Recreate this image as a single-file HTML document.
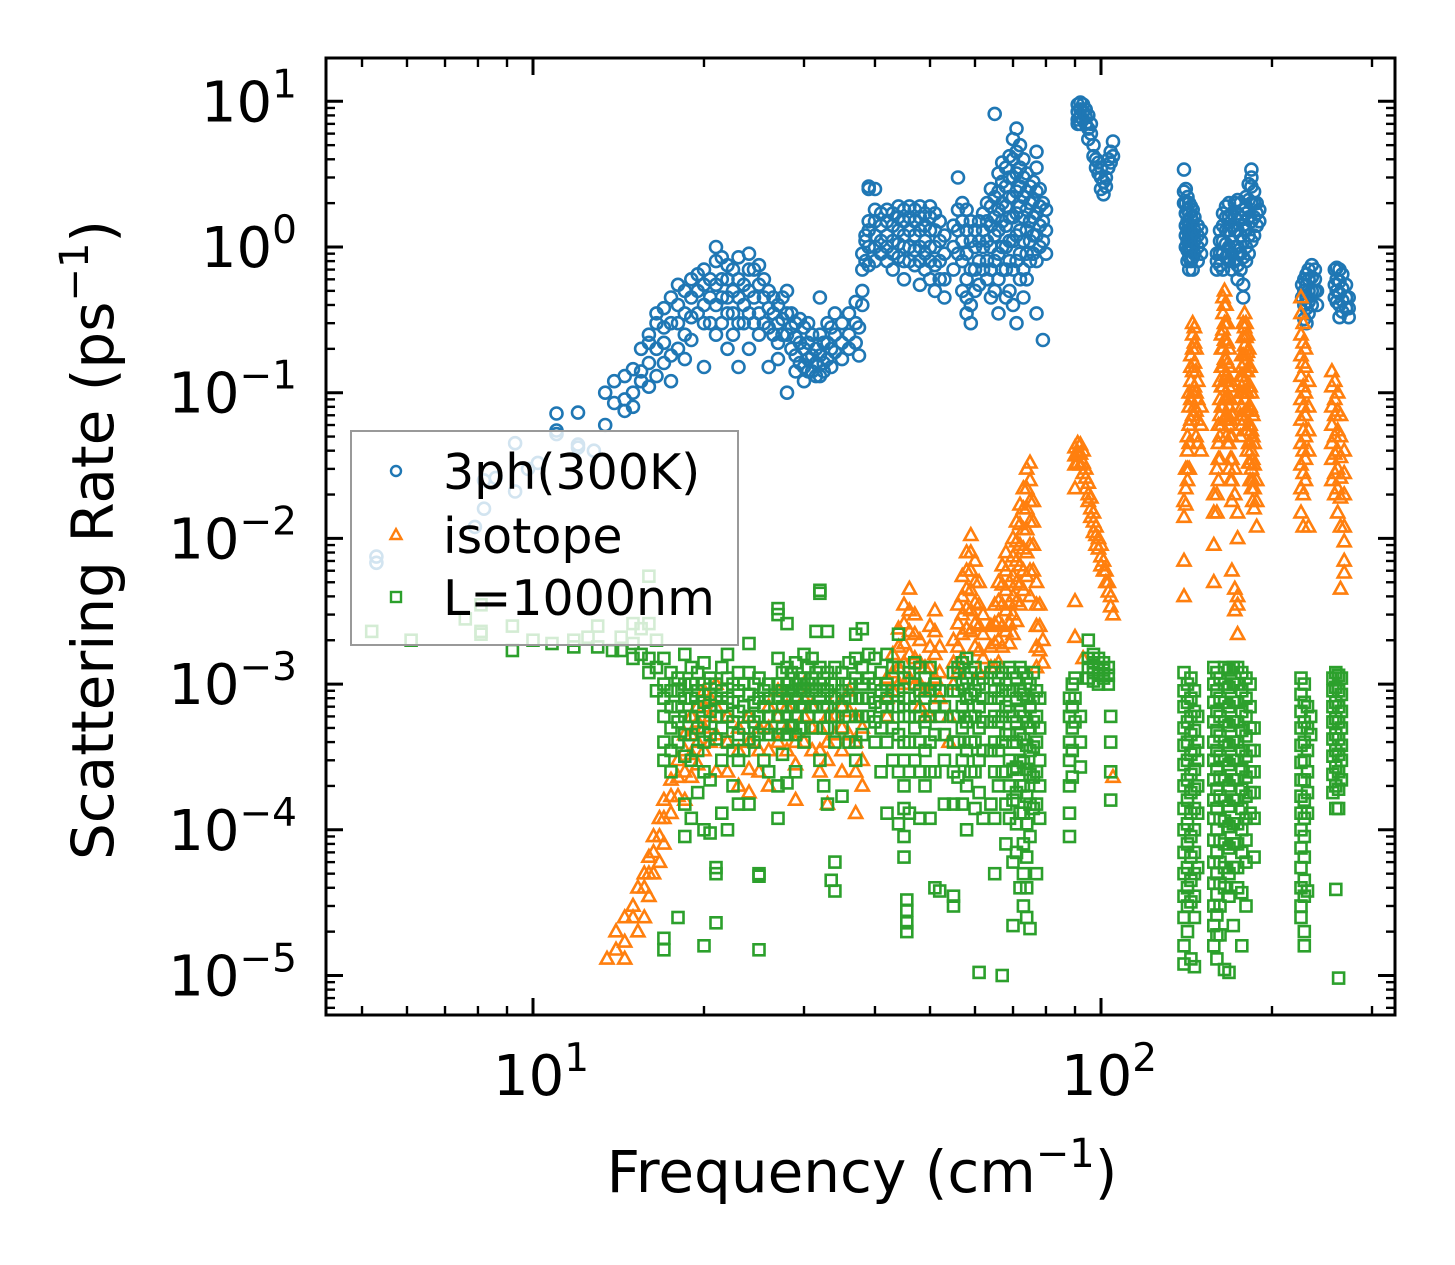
<!DOCTYPE html>
<html><head><meta charset="utf-8"><title>Scattering Rate vs Frequency</title>
<style>html,body{margin:0;padding:0;background:#fff}svg{display:block}text{font-family:"DejaVu Sans","Liberation Sans",sans-serif;fill:#000}</style>
</head><body>
<svg id="chart" width="1455" height="1265" viewBox="0 0 1455 1265" xmlns="http://www.w3.org/2000/svg">
<rect width="1455" height="1265" fill="#fff"/>
<g id="marks"></g>
<g id="axes"></g>
<g id="legend"></g>
</svg>
<script>
const seriesNames = ["3ph(300K)", "isotope", "L=1000nm"];
const xTickLabels = ["1", "2"];
const yTickExps = ["1", "0", "−1", "−2", "−3", "−4", "−5"];
const phononGroups = [
[5.3,0.0075,0.0068],[7.9,0.012],[8.2,0.016,0.025],[8.6,0.026],[9.3,0.045,0.021],[9.8,0.03],[10.2,0.033],[11,0.055,0.072,0.052],[12,0.073,0.044,0.042],[12.8,0.04],[13.4,0.1,0.06],[13.9,0.085,0.12],[14.5,0.13,0.09,0.075],[15,0.1,0.145,0.08],[15.5,0.14,0.2,0.12],[16,0.25,0.22,0.16,0.11],[16.5,0.35,0.3,0.2,0.13],[17,0.38,0.28,0.22,0.16],[17.5,0.45,0.3,0.18,0.12],[18,0.55,0.4,0.3,0.2],[18.5,0.5,0.35,0.25,0.17],[19,0.6,0.45,0.33,0.23],[19.5,0.65,0.5,0.35],[20,0.7,0.55,0.4,0.3,0.15],[20.5,0.6,0.45,0.3],[21,1.0,0.8,0.55,0.4,0.25],[21.5,0.85,0.6,0.45,0.3],[22,0.75,0.6,0.45,0.35,0.2],[22.5,0.7,0.5,0.35,0.25],[23,0.85,0.6,0.45,0.3,0.15],[23.5,0.55,0.4,0.3],[24,0.9,0.7,0.5,0.35,0.2],[24.5,0.7,0.45,0.3],[25,0.75,0.55,0.35,0.25],[25.5,0.6,0.45,0.3],[26,0.5,0.38,0.28,0.15],[26.5,0.45,0.35,0.25],[27,0.4,0.3,0.22,0.17],[27.5,0.45,0.32,0.25],[28,0.5,0.35,0.25,0.1],[28.5,0.35,0.28,0.2],[29,0.3,0.24,0.18,0.14],[29.5,0.32,0.22,0.16],[30,0.28,0.2,0.15,0.12],[30.5,0.3,0.22,0.17,0.14],[31,0.25,0.18,0.14],[31.5,0.2,0.16,0.13],[32,0.45,0.25,0.18,0.13],[32.5,0.22,0.16,0.14],[33,0.3,0.22,0.17],[33.5,0.28,0.2,0.15],[34,0.35,0.25,0.19],[35,0.3,0.22,0.17],[36,0.35,0.25,0.2],[37,0.42,0.3,0.22],[37.5,0.28,0.18],[38,0.5,0.4,0.7,0.9],[38.5,1.2,1.1,0.8],[39,2.6,2.5,1.5,1.3,1.0,0.75],[40,2.5,1.8,1.5,1.2,1.0,0.8],[41,1.7,1.4,1.1,0.9],[42,1.8,1.5,1.2,1.0,0.8],[43,1.7,1.4,1.1,0.9,0.7],[44,1.9,1.6,1.3,1.05,0.85],[45,1.8,1.5,1.2,1.0,0.8,0.6],[46,1.9,1.6,1.3,1.0,0.8],[47,1.8,1.5,1.2,0.95,0.75],[48,1.9,1.6,1.3,1.0,0.8,0.55],[49,1.7,1.4,1.1,0.9,0.7],[50,1.9,1.6,1.3,1.0,0.8,0.6],[51,1.7,1.3,1.0,0.75,0.5],[52,1.5,1.1,0.8,0.6],[53,1.2,0.9,0.6,0.45],[55,1.4,1.0,0.7],[56,3.0,1.8,1.3,0.9],[57,2.0,1.5,1.1,0.8,0.5],[58,1.8,1.3,0.9,0.6,0.45,0.35],[59,1.5,1.1,0.7,0.4,0.3],[60,1.3,1.0,0.7,0.5],[61,1.5,1.1,0.8,0.55],[62,1.7,1.3,1.0,0.7],[63,2.0,1.5,1.1,0.8,0.6],[64,2.5,1.9,1.4,1.0,0.7,0.45],[65,8.2,2.2,1.6,1.2,0.8,0.5],[66,3.2,2.4,1.8,1.3,0.9,0.6,0.35],[67,3.8,2.8,2.0,1.5,1.0,0.7],[68,3.5,2.6,1.9,1.4,1.0,0.7,0.45],[69,4.2,3.0,2.2,1.6,1.1,0.8,0.5],[70,5.5,4.0,3.0,2.2,1.6,1.1,0.7,0.4],[71,6.5,4.5,3.2,2.4,1.7,1.2,0.8,0.3],[72,5.0,3.5,2.6,1.9,1.3,0.9,0.6],[73,4.0,3.0,2.2,1.6,1.1,0.7,0.45],[74,3.2,2.4,1.8,1.3,0.9,0.6],[75,2.6,2.0,1.5,1.1,0.8],[76,2.8,2.1,1.6,1.2,0.9],[77,4.5,3.5,2.4,1.7,1.2,0.8,0.35],[78,2.5,1.9,1.4,1.0],[79,2.0,1.5,1.1,0.23],[80,1.8,1.3,0.9],
[91,9.5,8.5,7.5,7.0],[92,9.8,8.8,7.8,7.0],[93,9.5,8.5,7.5],[94,8.8,7.8,7.0],[95,8.0,6.5,5.5],[96,7.0,6.0],[97,5.0,4.2],[98,4.0,3.5],[99,3.8,3.2],[100,3.5,3.0,2.5],[101,2.8,2.3],[102,3.0,2.6],[103,4.0,3.5],[104,4.5,3.8],[105,5.3,4.2],
[140,3.4,2.4,2.0],[141,2.5,2.0,1.7,1.4,1.2,1.0],[142,2.2,1.8,1.5,1.3,1.1,0.95,0.8],[143,2.0,1.7,1.4,1.2,1.0,0.85,0.7],[144,1.9,1.6,1.3,1.1,0.95,0.8],[145,1.8,1.5,1.2,1.0,0.85,0.7],[146,1.6,1.3,1.1,0.9],[148,1.4,1.2,1.0,0.8],[150,1.3,1.1,0.9],
[160,0.9,0.8,0.7],[162,1.3,1.1,0.9,0.75],[164,1.7,1.4,1.1,0.9,0.7],[166,1.9,1.6,1.3,1.05,0.85],[168,2.0,1.6,1.3,1.0,0.8],[170,1.7,1.4,1.1,0.9,0.7],[172,2.0,1.6,1.3,1.0,0.8],[174,2.1,1.7,1.3,1.0,0.75,0.6],[176,2.0,1.6,1.2,0.9,0.7],[178,1.8,1.4,1.1,0.85,0.55,0.45],[180,2.2,1.7,1.3,1.0,0.8],[182,2.7,2.1,1.6,1.2,0.9],[184,3.4,3.0,2.6,2.0,1.5,1.1],[186,2.4,2.0,1.6,1.2],[188,2.0,1.7,1.4],[190,1.8,1.5],
[226,0.55,0.45],[228,0.6,0.5,0.4,0.32],[230,0.65,0.55,0.45,0.38,0.3],[232,0.7,0.6,0.5,0.42,0.35],[235,0.75,0.62,0.5,0.4],[238,0.7,0.6,0.5],[240,0.5,0.4],
[258,0.7,0.55,0.45],[260,0.72,0.6,0.5,0.42],[263,0.7,0.58,0.48,0.4,0.33],[266,0.65,0.52,0.43,0.36],[270,0.55,0.45,0.38],[273,0.45,0.38,0.33]
];
const isotopeGroups = [
[13.5,1.3e-5],[14,2e-5,1.5e-5],[14.5,2.5e-5,1.7e-5,1.3e-5],[15,3e-5,2.5e-5],[15.3,4e-5,2e-5],[15.7,5e-5,4e-5,2.5e-5],[16,6.5e-5,5e-5,3.5e-5],[16.3,9e-5,7e-5,5e-5],[16.7,1.2e-4,9e-5,6e-5],[17,1.6e-4,1.2e-4,8e-5],[17.5,2.2e-4,1.7e-4,1.3e-4],[18,3e-4,2.3e-4,1.7e-4],[18.5,4.5e-4,3.5e-4,2.5e-4,1.6e-4],[19,6e-4,4.5e-4,3.3e-4,2.3e-4],[19.5,7e-4,5.5e-4,4e-4,2.8e-4],[20,9e-4,7e-4,5e-4,3.5e-4],[20.5,8e-4,6e-4,4e-4],[21,1e-3,7e-4,4.5e-4,2.5e-4],[22,6e-4,4e-4,2.5e-4],[23,5e-4,3.5e-4,2e-4],[24,6e-4,4e-4,2.6e-4,1.8e-4],[25,5e-4,3.5e-4,2.5e-4],[26,7e-4,5e-4,3.5e-4,2e-4],[27,9e-4,6e-4,4e-4],[28,7e-4,5e-4,3.5e-4],[29,4e-4,2.8e-4,1.6e-4],[30,1e-3,8e-4,6e-4,4e-4],[31,7e-4,5e-4,3.5e-4],[32,5e-4,3.5e-4,2.5e-4],[33,6e-4,4e-4,3e-4,1.5e-4],[34,8e-4,6e-4,4.5e-4],[35,7e-4,5e-4,3.5e-4,2.5e-4],[36,9e-4,6.5e-4,4.5e-4],[37,6e-4,4e-4,2.5e-4,1.3e-4],[38,5e-4,3e-4,2e-4],[42,1.1e-3,8e-4,6e-4],[43,1.6e-3,1.2e-3,9e-4],[44,2.4e-3,1.8e-3,1.3e-3,1e-3],[45,3.5e-3,2.6e-3,1.9e-3,1.4e-3,1e-3],[46,4.5e-3,3.2e-3,2.3e-3,1.6e-3,1.1e-3],[47,3e-3,2.2e-3,1.5e-3,1e-3],[48,2e-3,1.4e-3,1e-3,7e-4],[49,1.3e-3,9e-4,6e-4],[50,2.5e-3,1.8e-3,1.3e-3,9e-4,6e-4],[51,3.2e-3,2.3e-3,1.6e-3,1.1e-3],[52,1.8e-3,1.2e-3,8e-4],[54,6e-4,4e-4],[55,2e-3,1.4e-3,1e-3],[56,3.5e-3,2.6e-3,1.8e-3,1.2e-3],[57,5.5e-3,4e-3,3e-3,2.2e-3,1.5e-3],[58,8e-3,6e-3,4.5e-3,3.3e-3,2.4e-3],[59,1.05e-2,8e-3,6e-3,4.4e-3,3.2e-3,2.3e-3],[60,7e-3,5e-3,3.6e-3,2.6e-3,1.8e-3],[61,5e-3,3.5e-3,2.5e-3,1.7e-3,1.2e-3],[62,3e-3,2.2e-3,1.5e-3],[64,2.5e-3,1.8e-3,1.3e-3],[65,3.5e-3,2.6e-3,1.9e-3,1.3e-3],[66,5e-3,3.7e-3,2.7e-3,2e-3,1.4e-3],[67,6.5e-3,4.8e-3,3.5e-3,2.5e-3,1.8e-3],[68,8e-3,6e-3,4.4e-3,3.2e-3,2.3e-3],[69,5e-3,3.6e-3,2.6e-3,1.9e-3],[70,1e-2,7.5e-3,5.5e-3,4e-3,3e-3,2.2e-3],[71,1.3e-2,9.5e-3,7e-3,5e-3,3.7e-3,2.7e-3],[72,1.7e-2,1.25e-2,9e-3,6.5e-3,4.8e-3,3.5e-3],[73,2.2e-2,1.6e-2,1.15e-2,8.5e-3,6e-3,4.4e-3],[74,3e-2,2.2e-2,1.6e-2,1.15e-2,8e-3,5.5e-3],[75,3.3e-2,2.5e-2,1.8e-2,1.3e-2,9e-3,6e-3,4e-3],[76,1.8e-2,1.3e-2,9e-3,6e-3],[77,5e-3,3.5e-3,2.5e-3,1.8e-3,1.3e-3],[78,3.5e-3,2.5e-3,1.7e-3],[79,2e-3,1.4e-3],
[90,4.2e-2,3.7e-2,3.2e-2,3.7e-3,2.1e-3,2.2e-2],[91,4.5e-2,3.8e-2,3.3e-2],[92,4.4e-2,3.8e-2,3.2e-2],[93,4e-2,3.3e-2,2.8e-2,1.5e-3],[94,3e-2,2.6e-2,2.2e-2],[95,2.4e-2,2e-2,1.8e-2],[96,1.9e-2,1.6e-2,1.4e-2],[97,1.5e-2,1.3e-2,1.1e-2],[98,1.2e-2,1.05e-2,9e-3],[99,1e-2,8.5e-3],[100,9e-3,7.5e-3,6.5e-3],[101,7e-3,6e-3],[102,6e-3,5e-3],[103,5e-3,4.3e-3],[104,4e-3,3.4e-3],[105,3e-3,2.3e-4],
[140,7e-3,4e-3,1.8e-2,1.4e-2],[141,2.2e-2,3e-2,1.7e-2],[142,3e-2,4e-2,5e-2,2.5e-2],[143,0.06,0.08,0.1,0.045,0.03],[144,0.12,0.15,0.18,0.09,0.065],[145,0.2,0.25,0.3,0.14,0.1,0.07],[146,0.28,0.22,0.16,0.11,0.08],[147,0.2,0.14,0.1,0.075,0.05],[148,0.12,0.09,0.065,0.045],[150,0.08,0.06,0.04],
[158,0.015,0.009,0.02,0.005],[160,0.03,0.02,0.015],[161,0.06,0.045,0.035,0.025],[162,0.12,0.09,0.07,0.05,0.035],[163,0.25,0.2,0.15,0.11,0.08,0.06],[164,0.45,0.35,0.27,0.2,0.15,0.11,0.08],[165,0.5,0.4,0.3,0.23,0.17,0.12,0.09,0.065],[166,0.4,0.3,0.23,0.17,0.13,0.09,0.07,0.05],[167,0.3,0.22,0.16,0.12,0.09,0.065,0.045],[168,0.2,0.15,0.11,0.08,0.06,0.045,0.03],[169,0.12,0.09,0.065,0.05,0.035,0.025],[170,0.07,0.05,0.035,0.025,0.018,0.006],[172,0.03,0.02,0.0045,0.0032],[174,0.015,0.01,0.004,0.0035,0.0022],
[176,0.1,0.13,0.07,0.05],[177,0.18,0.15,0.11,0.08,0.06],[178,0.3,0.24,0.18,0.13,0.1,0.07],[179,0.35,0.28,0.21,0.16,0.12,0.09,0.065],[180,0.3,0.24,0.18,0.14,0.1,0.075,0.055],[181,0.25,0.19,0.14,0.1,0.075,0.055,0.04],[182,0.2,0.15,0.11,0.08,0.06,0.045,0.033],[183,0.15,0.11,0.08,0.06,0.045,0.033,0.025],[184,0.1,0.075,0.055,0.04,0.03,0.022],[185,0.07,0.05,0.035,0.025,0.018],[186,0.045,0.032,0.022,0.016],[188,0.025,0.018,0.012],
[225,0.45,0.35,0.25,0.18,0.13,0.09,0.065,0.045,0.032,0.022,0.015],[227,0.3,0.22,0.16,0.11,0.08,0.055,0.04,0.028,0.02,0.012],[229,0.2,0.15,0.1,0.07,0.05,0.035,0.025],[232,0.12,0.08,0.055,0.04,0.012],
[255,0.14,0.11,0.08,0.06,0.045,0.035,0.025],[258,0.12,0.09,0.07,0.05,0.038,0.028,0.02],[261,0.1,0.075,0.055,0.04,0.03,0.022,0.015],[264,0.07,0.05,0.036,0.026,0.019,0.012,0.0045],[268,0.04,0.028,0.02,0.012,0.0095,0.007,0.0058]
];
const boundaryGroups = [
[5.2,2.3e-3],[6.1,2e-3],[7.6,2.8e-3],[8.1,3.5e-3,2.3e-3,2.2e-3],[9.2,2.5e-3,1.7e-3],[10,2e-3],[10.8,1.9e-3],[11.8,1.8e-3,2e-3],[12.5,2.1e-3],[13,2.5e-3,1.8e-3],[13.8,1.7e-3],[14.3,2.1e-3,1.7e-3],[15,1.9e-3,1.5e-3,2.6e-3],[15.5,1.6e-3,2.4e-3],[16,1.5e-3,1.2e-3,5.5e-3,2.6e-3],[16.5,1.3e-3,9e-4,2e-3],[17,1.5e-3,1e-3,8e-4,6e-4,4e-4,3e-4,1.8e-5,1.5e-5],[17.5,1.2e-3,9e-4,7e-4,5e-4,3.5e-4,2.5e-4],[18,1.1e-3,9e-4,7e-4,5.5e-4,4e-4,2.5e-5],[18.5,1.6e-3,1e-3,8e-4,6e-4,4.5e-4,3.2e-4,1.5e-4,9e-5],[19,1.3e-3,1e-3,8e-4,6e-4,4.5e-4,3e-4,1.2e-4],[19.5,1.2e-3,9e-4,7e-4,5e-4,3.5e-4,1.8e-4],[20,1.4e-3,1e-3,7.5e-4,5.5e-4,4e-4,2.5e-4,1e-4,1.6e-5],[20.5,1.1e-3,8.5e-4,6.5e-4,4.5e-4,2.2e-4,9.5e-5],[21,1e-3,8e-4,6e-4,4.2e-4,5.5e-5,5e-5,2.3e-5],[21.5,1.3e-3,9e-4,7e-4,5e-4,3e-4,1.3e-4],[22,1.6e-3,1.1e-3,8e-4,6e-4,4e-4,1e-4],[22.5,1e-3,7.5e-4,5.5e-4,3.5e-4,2e-4],[23,1.2e-3,9e-4,6.5e-4,4.5e-4,3e-4,1.5e-4],[23.5,1e-3,7e-4,5e-4,3.5e-4],[24,1.9e-3,1.2e-3,8.5e-4,6e-4,4.2e-4,1.5e-4],[24.5,1e-3,7.5e-4,5.5e-4,4e-4],[25,1.1e-3,8e-4,6e-4,4.5e-4,5e-5,4.8e-5,1.5e-5],[25.5,9e-4,7e-4,5e-4,3e-4],[26,1e-3,8e-4,6e-4,4.5e-4,2.5e-4],[27,3.3e-3,3e-3,1.5e-3,1e-3,8e-4,6e-4,4.5e-4,2e-4,1.2e-4],[27.5,1.2e-3,9e-4,7e-4,5e-4,3.3e-4],[28,2.6e-3,1.3e-3,1e-3,8e-4,6e-4,4.5e-4,2.1e-4],[28.5,1.2e-3,9e-4,7e-4,5.2e-4],[29,1.4e-3,1e-3,8e-4,6e-4,4.5e-4,2.5e-4],[29.5,1.1e-3,9e-4,7e-4,5e-4],[30,1.6e-3,1.1e-3,9e-4,7e-4,5e-4,4e-4],[30.5,1.3e-3,1e-3,8e-4,6e-4],[31,1.5e-3,1.1e-3,9e-4,7e-4,5e-4],[31.5,2.3e-3,1.2e-3,9e-4,7e-4],[32,4.4e-3,4.2e-3,1.3e-3,1e-3,8e-4,6e-4,3e-4],[32.5,1.1e-3,9e-4,7e-4,5e-4,2e-4],[33,2.3e-3,1.2e-3,9e-4,7e-4,5e-4,1.5e-4],[33.5,1e-3,8e-4,6e-4,4.5e-5],[34,1.3e-3,1e-3,8e-4,6e-4,4e-4,6e-5,3.8e-5],[35,1.2e-3,9e-4,7e-4,5e-4,1.7e-4],[36,1.4e-3,1e-3,8e-4,6e-4,4e-4],[37,2.2e-3,1.5e-3,1.1e-3,8e-4,6e-4,4e-4,3e-4],[38,2.4e-3,1.3e-3,1e-3,8e-4,6e-4,4.5e-4],[39,1.6e-3,1.1e-3,8e-4,6e-4],[40,1.5e-3,1e-3,7.5e-4,5.5e-4,4e-4],[41,1.2e-3,9e-4,7e-4,5e-4,2.5e-4],[42,1.6e-3,1e-3,8e-4,6e-4,4e-4,1.3e-4],[43,1.3e-3,9e-4,7e-4,5e-4,3e-4],[44,2.2e-3,1.3e-3,9e-4,7e-4,4.5e-4,2.5e-4,1.1e-4],[45,1.1e-3,8e-4,6e-4,4e-4,3e-4,2e-4,1.4e-4,9e-5,6.5e-5],[45.5,2.8e-5,2.3e-5,2e-5,3.3e-5],[46,1.2e-3,8e-4,6e-4,4e-4,2.5e-4,1.3e-4],[47,1.4e-3,1e-3,7e-4,5e-4,3e-4],[48,1.3e-3,9e-4,6e-4,4e-4,2.5e-4,1.2e-4],[49,1.1e-3,8e-4,5.5e-4,3.5e-4,2e-4],[50,1.3e-3,9e-4,6e-4,4e-4,2.5e-4,1.2e-4],[51,1e-3,7e-4,4.5e-4,2.5e-4,4e-5],[52,9e-4,6e-4,3.8e-5],[53,7e-4,4.5e-4,3e-4,1.5e-4],[55,1.2e-3,9e-4,6e-4,4e-4,2.5e-4,1.5e-4,3.5e-5,3e-5],[56,1.3e-3,9e-4,6e-4,4e-4,2.3e-4],[57,1.4e-3,1e-3,7e-4,5e-4,3e-4,1.5e-4],[58,1.5e-3,1.1e-3,8e-4,5.5e-4,3.5e-4,2e-4,1e-4],[59,1.2e-3,8.5e-4,6e-4,4e-4,2.5e-4],[60,1.3e-3,9e-4,6e-4,4e-4,2.5e-4,1.4e-4],[61,1e-3,7e-4,5e-4,3e-4,1.8e-4,1.05e-5],[62,1.1e-3,8e-4,5.5e-4,3.5e-4,1.2e-4],[64,1.2e-3,8e-4,5.5e-4,3.5e-4,1.5e-4],[65,1.3e-3,9e-4,6e-4,4e-4,2.5e-4,1.2e-4,5e-5],[66,1.1e-3,8e-4,5.5e-4,3.5e-4,2e-4],[67,1.2e-3,9e-4,6e-4,4e-4,2.5e-4,1e-5],[68,1e-3,7e-4,4.5e-4,2.5e-4,1.5e-4,8e-5],[69,1.3e-3,9e-4,6.5e-4,4.5e-4,3e-4,2e-4,1.2e-4],[70,1.2e-3,9e-4,6e-4,4e-4,2.6e-4,1.6e-4,6e-5,2.2e-5],[71,1.1e-3,8e-4,5.5e-4,4e-4,2.7e-4,1.8e-4,1.1e-4,7e-5],[72,1.3e-3,9e-4,6.5e-4,4.5e-4,3e-4,2e-4,1.3e-4,4e-5],[73,1.2e-3,8.5e-4,6e-4,4.2e-4,2.9e-4,2e-4,1.3e-4,8e-5,5e-5,3e-5],[74,1.1e-3,8e-4,5.5e-4,3.8e-4,2.6e-4,1.7e-4,1.1e-4,6.5e-5,4e-5,2.5e-5],[75,1e-3,7e-4,5e-4,3.5e-4,2.4e-4,1.5e-4,9e-5,2.1e-5],[76,1.2e-3,8e-4,5.5e-4,3.7e-4,2.3e-4,1.4e-4],[77,9e-4,6e-4,4e-4,2.5e-4,1.5e-4,5e-5],[78,8e-4,5e-4,3e-4,2e-4,1.2e-4],
[88,8e-4,6e-4,4e-4,3e-4,2e-4,1.3e-4,9e-5],[89,1e-3,7e-4,5e-4,3.5e-4,2.3e-4],[90,1.1e-3,8e-4,5.5e-4],[92,6e-4,4e-4,2.7e-4],[95,1.5e-3,1.3e-3,1.1e-3,2e-3],[97,1.6e-3,1.4e-3,1.2e-3,1.05e-3],[99,1.5e-3,1.3e-3,1.15e-3,1e-3],[101,1.4e-3,1.25e-3,1.1e-3],[103,1.3e-3,1.15e-3,1e-3],[104,6e-4,4e-4,2.5e-4,1.6e-4],
[140,1.2e-3,9e-4,7e-4,5e-4,3.8e-4,2.8e-4,2e-4,1.4e-4,1e-4,7e-5,5e-5,3.5e-5,2.5e-5,1.6e-5,1.2e-5],[142,1e-3,7.5e-4,5.5e-4,4e-4,3e-4,2.2e-4,1.6e-4,1.1e-4,8e-5,5.5e-5,4e-5,3e-5,2e-5],[144,1.1e-3,8e-4,6e-4,4.5e-4,3.3e-4,2.4e-4,1.8e-4,1.3e-4,9e-5,6.5e-5,4.5e-5,3.2e-5,1.3e-5],[146,9e-4,6.5e-4,4.8e-4,3.5e-4,2.6e-4,1.9e-4,1.4e-4,1e-4,7e-5,5e-5,3.5e-5,2.5e-5,1.15e-5],[148,6e-4,4e-4,3e-4,2e-4,1.3e-4,5.5e-5],
[158,1.3e-3,1e-3,7.5e-4,5.5e-4,4e-4,3e-4,2.2e-4,1.6e-4,1.2e-4,8.5e-5,6e-5,4.3e-5,3e-5,2.2e-5,1.6e-5],[160,1.2e-3,9e-4,6.5e-4,4.8e-4,3.5e-4,2.6e-4,1.9e-4,1.4e-4,1e-4,7e-5,5e-5,3.6e-5,2.6e-5,1.9e-5,1.3e-5],[162,1.1e-3,8e-4,6e-4,4.4e-4,3.2e-4,2.3e-4,1.7e-4,1.2e-4,8.5e-5,6e-5,4.3e-5,3e-5,1.9e-5],[165,1.3e-3,1e-3,7.5e-4,5.5e-4,4e-4,3e-4,2.2e-4,1.6e-4,1.15e-4,8e-5,5.5e-5,4e-5,1.1e-5],[168,1.25e-3,9.5e-4,7e-4,5.2e-4,3.8e-4,2.8e-4,2e-4,1.45e-4,1.05e-4,7.5e-5,5e-5,3.5e-5,1.05e-5],[171,1.3e-3,1e-3,7.5e-4,5.5e-4,4e-4,3e-4,2.2e-4,1.6e-4,1.1e-4,8e-5,5.5e-5,2.2e-5],[174,1.3e-3,1e-3,7.5e-4,5.5e-4,4e-4,3e-4,2.2e-4,1.6e-4,1.1e-4,8e-5,5.5e-5,4e-5],[177,1.2e-3,9e-4,6.5e-4,4.8e-4,3.5e-4,2.6e-4,1.9e-4,1.4e-4,1e-4,7e-5,3.7e-5,1.6e-5],[180,1.1e-3,8e-4,6e-4,4.4e-4,3.2e-4,2.3e-4,1.7e-4,1.2e-4,8.5e-5,6e-5,3e-5],[183,1e-3,7e-4,5e-4,3.5e-4,2.5e-4,1.8e-4,1.3e-4],[186,5e-4,3.5e-4,2.5e-4,1.8e-4,1.2e-4,6.5e-5],
[225,1.1e-3,8.5e-4,6.5e-4,5e-4,3.8e-4,2.9e-4,2.2e-4,1.7e-4,1.3e-4,1e-4,7.5e-5,5.5e-5,4e-5,3e-5,2.5e-5],[228,1e-3,7.5e-4,5.5e-4,4e-4,3e-4,2.2e-4,1.6e-4,1.2e-4,9e-5,6.5e-5,4.5e-5,3.5e-5,2e-5,1.6e-5],[231,7e-4,5e-4,3.5e-4,2.5e-4,1.8e-4,1.3e-4,3.8e-5],[234,6e-4,4.5e-4],
[256,1.1e-3,9e-4,7e-4,5.5e-4,4.2e-4,3.2e-4,2.4e-4,1.8e-4],[259,1.2e-3,9.5e-4,7.5e-4,5.8e-4,4.5e-4,3.5e-4,2.7e-4,2e-4,1.4e-4,3.9e-5],[262,1.15e-3,9e-4,7e-4,5.5e-4,4.2e-4,3.3e-4,2.5e-4,1.9e-4,1.4e-4,9.6e-6],[265,1.1e-3,8.5e-4,6.5e-4,5e-4,3.8e-4,3e-4,2.2e-4]
];

const NS = "http://www.w3.org/2000/svg";
const L = 326, R = 1395, T = 58, B = 1015;
const X10 = 533, XDEC = 568, Y1 = 247, YDEC = 145.7;
function xs(f) { return X10 + XDEC * (Math.log10(f) - 1); }
function ys(v) { return Y1 - YDEC * Math.log10(v); }
function mk(tag, attrs, parent) {
  const e = document.createElementNS(NS, tag);
  for (const k in attrs) e.setAttribute(k, attrs[k]);
  parent.appendChild(e);
  return e;
}
const marks = document.getElementById('marks');
const axes = document.getElementById('axes');
const legend = document.getElementById('legend');

function circleAt(g, x, y, r, color, w) {
  return mk('circle', {cx: x.toFixed(1), cy: y.toFixed(1), r: r, fill: 'none', stroke: color, 'stroke-width': w}, g);
}
function triAt(g, x, y, s, color, w) {
  const h = s * 0.9;
  const pts = [[x, y - h * 0.6], [x + s / 2, y + h * 0.4], [x - s / 2, y + h * 0.4]].map(p => p[0].toFixed(1) + ',' + p[1].toFixed(1)).join(' ');
  return mk('polygon', {points: pts, fill: 'none', stroke: color, 'stroke-width': w, 'stroke-linejoin': 'miter'}, g);
}
function sqAt(g, x, y, s, color, w) {
  return mk('rect', {x: (x - s / 2).toFixed(1), y: (y - s / 2).toFixed(1), width: s, height: s, fill: 'none', stroke: color, 'stroke-width': w}, g);
}

const gBlue = mk('g', {}, marks);


phononGroups.forEach(grp => {
  for (let i = 1; i < grp.length; i++) {
    const c = circleAt(gBlue, xs(grp[0]), ys(grp[i]), 6, '#1f77b4', 2.6);
    
    
  }
});
const gOr = mk('g', {}, marks);


isotopeGroups.forEach(grp => {
  for (let i = 1; i < grp.length; i++) {
    const t = triAt(gOr, xs(grp[0]), ys(grp[i]), 13, '#ff7f0e', 2.6);
    
    
  }
});
const gGr = mk('g', {}, marks);


boundaryGroups.forEach(grp => {
  for (let i = 1; i < grp.length; i++) {
    const s = sqAt(gGr, xs(grp[0]), ys(grp[i]), 11, '#2ca02c', 2.6);
    
    
  }
});

function tick(x1, y1, x2, y2, w, name) {
  const l = mk('line', {x1: x1, y1: y1, x2: x2, y2: y2, stroke: '#000', 'stroke-width': w}, axes);
  
  
}
for (let d = 0; d <= 2; d++) {
  for (let m = 1; m <= 9; m++) {
    const f = m * Math.pow(10, d);
    const x = xs(f);
    if (x < L + 2 || x > R - 2) continue;
    const len = m === 1 ? 17 : 9;
    tick(x, B, x, B - len, m === 1 ? 3 : 2.4, m === 1 ? 'x-major-tick' : 'x-minor-tick');
    tick(x, T, x, T + len, m === 1 ? 3 : 2.4, m === 1 ? 'x-major-tick-top' : 'x-minor-tick-top');
  }
}
for (let d = -6; d <= 1; d++) {
  for (let m = 1; m <= 9; m++) {
    const v = m * Math.pow(10, d);
    const y = ys(v);
    if (y < T + 2 || y > B - 2) continue;
    const len = m === 1 ? 17 : 9;
    tick(L, y, L + len, y, m === 1 ? 3 : 2.4, m === 1 ? 'y-major-tick' : 'y-minor-tick');
    tick(R, y, R - len, y, m === 1 ? 3 : 2.4, m === 1 ? 'y-major-tick-right' : 'y-minor-tick-right');
  }
}
const frame = mk('rect', {x: L, y: T, width: R - L, height: B - T, fill: 'none', stroke: '#000', 'stroke-width': 3}, axes);



function powLabel(x, y, exp, anchor, name) {
  const t = mk('text', {x: x, y: y, 'font-size': 56, 'text-anchor': anchor}, axes);
  
  
  const a = mk('tspan', {}, t); a.textContent = '10';
  const b = mk('tspan', {'font-size': 39, dy: -24}, t); b.textContent = exp;
}
xTickLabels.forEach((e, i) => powLabel(xs(Math.pow(10, i + 1)) + 8, 1095, e, 'middle', 'x-tick-label'));
yTickExps.forEach((e, i) => powLabel(297, ys(Math.pow(10, 1 - i)) + 20, e, 'end', 'y-tick-label'));

const xt = mk('text', {x: 862, y: 1192, 'font-size': 58, 'text-anchor': 'middle'}, axes);


mk('tspan', {}, xt).textContent = 'Frequency (cm';
mk('tspan', {'font-size': 40, dy: -25}, xt).textContent = '−1';
mk('tspan', {dy: 25}, xt).textContent = ')';

const yt = mk('text', {x: 0, y: 0, 'font-size': 58, 'text-anchor': 'middle', transform: 'translate(113,540) rotate(-90)'}, axes);


mk('tspan', {}, yt).textContent = 'Scattering Rate (ps';
mk('tspan', {'font-size': 40, dy: -25}, yt).textContent = '−1';
mk('tspan', {dy: 25}, yt).textContent = ')';

const box = mk('rect', {x: 351, y: 431, width: 387, height: 214, fill: '#fff', 'fill-opacity': 0.8, stroke: '#999', 'stroke-width': 2}, legend);


const rows = [471, 535, 597];
seriesNames.forEach((n, i) => {
  const g = mk('g', {}, legend);
  
  
  if (i === 0) circleAt(g, 396, rows[i], 5, '#1f77b4', 2.4);
  if (i === 1) triAt(g, 396, rows[i], 11, '#ff7f0e', 2.4);
  if (i === 2) sqAt(g, 396, rows[i], 10, '#2ca02c', 2.4);
  const t = mk('text', {x: 443, y: rows[i] + 18, 'font-size': 49}, g);
  t.textContent = n;
});
</script>
</body></html>
